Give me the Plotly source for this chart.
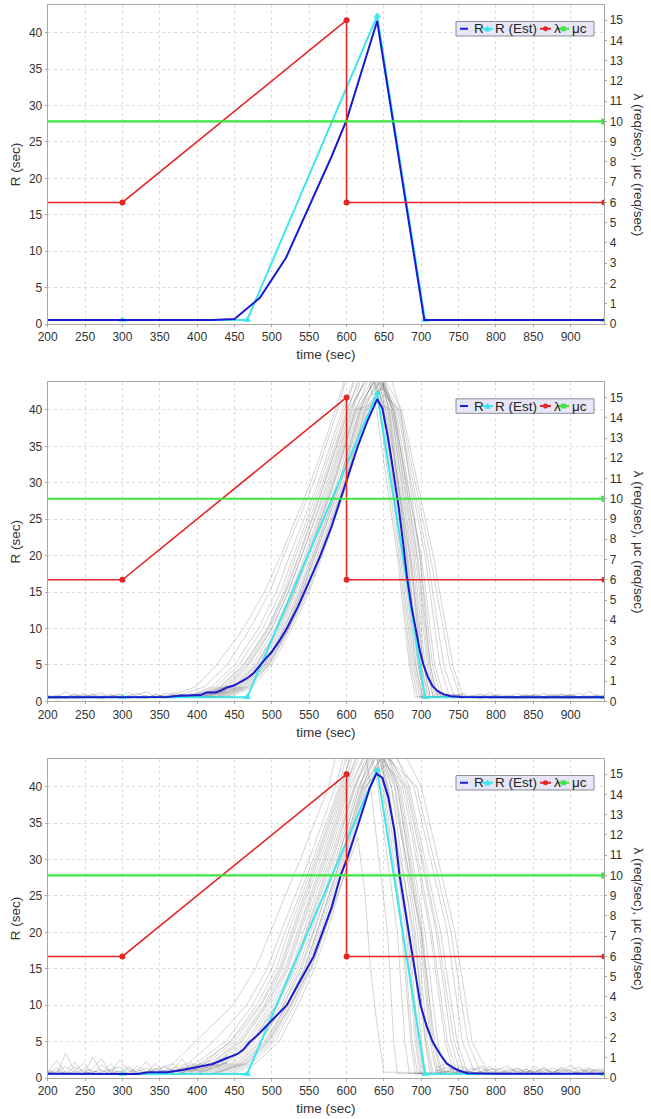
import plotly.graph_objects as go

# ---------------- data ----------------
X_TICKS = [200, 250, 300, 350, 400, 450, 500, 550, 600, 650, 700, 750, 800, 850, 900]
R_TICKS = [0, 5, 10, 15, 20, 25, 30, 35, 40]
RATE_TICKS = [0, 1, 2, 3, 4, 5, 6, 7, 8, 9, 10, 11, 12, 13, 14, 15]

LAMBDA_X = [0, 300, 600, 600, 945]
LAMBDA_Y = [6, 6, 15, 6, 6]
MUC_X = [0, 945]
MUC_Y = [10, 10]
REST_X = [0, 300, 467, 641, 705, 945]
REST_Y = [0.55, 0.55, 0.55, 42.3, 0.55, 0.55]

R1_X = [200, 420, 450, 484, 519, 556, 580, 600, 641, 704, 945]
R1_Y = [0.55, 0.55, 0.7, 3.6, 9.1, 17.5, 23.0, 28.0, 41.6, 0.55, 0.55]

R2_X = [200, 300, 360, 375, 390, 405, 412, 425, 432, 440, 450, 458, 466, 475, 484, 492, 500, 510,
        520, 535, 551, 565, 580, 592, 601, 615, 628, 634, 641, 648, 655, 662, 670, 676, 681, 687,
        692, 698, 703, 709, 715, 722, 730, 740, 755, 800, 945]
R2_Y = [0.55, 0.55, 0.6, 0.75, 0.8, 0.85, 1.2, 1.2, 1.5, 1.9, 2.2, 2.6, 3.1, 3.8, 5.0, 5.9, 6.8, 8.3,
        10.0, 13.0, 16.7, 20.0, 24.0, 27.8, 30.5, 35.0, 38.5, 40.0, 41.5, 40.2, 36.5, 32.0, 26.5, 21.5,
        17.0, 13.0, 10.0, 7.0, 5.0, 3.3, 2.1, 1.4, 0.95, 0.7, 0.58, 0.55, 0.55]

R3_X = [200, 280, 320, 335, 360, 380, 398, 410, 420, 432, 445, 454, 462, 470, 480, 493, 505, 520,
        535, 556, 567, 580, 592, 601, 615, 631, 640, 648, 656, 664, 671, 680, 688, 699, 707, 715,
        725, 734, 743, 751, 762, 800, 945]
R3_Y = [0.6, 0.6, 0.55, 0.8, 0.8, 1.1, 1.5, 1.7, 1.9, 2.4, 2.9, 3.3, 3.9, 4.9, 5.8, 7.2, 8.4, 10.0,
        12.8, 16.7, 19.8, 23.4, 27.8, 30.2, 34.6, 39.8, 41.8, 41.2, 38.5, 34.0, 27.8, 22.0, 16.7,
        10.0, 7.2, 5.0, 3.3, 2.0, 1.4, 1.0, 0.65, 0.6, 0.6]

# sample runs: times at which each run crosses these levels
GRAY_BASE = 0.6
GRAY_UP_LEVELS = [2, 5, 10, 15, 20, 30, 40]
GRAY_DOWN_LEVELS = [40, 20, 5]
# (leave base, x@2, x@5, x@10, x@15, x@20, x@30, x@40, x peak, peak, fall x@40, x@20, x@5, back to base)
GRAY2_ROWS = [
    (360, 398, 426, 462, 490, 512, 552, 585, 615, 50, 640, 668, 684, 692),
    (385, 420, 450, 482, 506, 524, 562, 594, 625, 48, 648, 672, 688, 698),
    (395, 430, 462, 494, 516, 532, 568, 600, 630, 47, 650, 676, 692, 702),
    (405, 440, 470, 500, 522, 540, 574, 605, 635, 46, 655, 680, 695, 706),
    (410, 445, 478, 507, 528, 546, 580, 610, 640, 45, 658, 684, 700, 710),
    (420, 452, 483, 512, 532, 550, 584, 613, 642, 44.5, 662, 690, 705, 716),
    (425, 456, 488, 517, 537, 555, 590, 617, 645, 44, 664, 695, 712, 722),
    (430, 462, 493, 522, 542, 561, 595, 622, 648, 43, 668, 705, 725, 738),
    (440, 470, 497, 524, 548, 566, 599, 626, 650, 42, 672, 712, 738, 752),
    (370, 410, 440, 471, 497, 516, 556, 588, 620, 52, 644, 670, 686, 695),
    (400, 435, 466, 497, 519, 537, 571, 603, 632, 45, 653, 685, 703, 712),
    (415, 448, 480, 510, 530, 548, 582, 612, 640, 41, 660, 688, 703, 712),
    (428, 458, 490, 520, 540, 558, 592, 619, 644, 46, 662, 700, 718, 730),
    (390, 425, 456, 488, 512, 529, 565, 597, 628, 49, 650, 674, 690, 700),
    (435, 466, 495, 522, 545, 563, 597, 624, 652, 47, 672, 698, 712, 720),
    (400, 438, 468, 500, 522, 540, 576, 607, 636, 50, 656, 682, 697, 706),
    (415, 450, 480, 508, 530, 548, 583, 612, 641, 47, 660, 686, 700, 708),
    (420, 455, 485, 514, 535, 553, 587, 615, 643, 45, 662, 692, 708, 716),
    (432, 464, 492, 519, 540, 558, 593, 620, 646, 44, 666, 698, 715, 726),
    (408, 442, 474, 504, 526, 544, 578, 608, 638, 48, 657, 681, 696, 704),
    (438, 468, 496, 523, 546, 564, 598, 625, 650, 43.5, 670, 708, 730, 744),
    (398, 432, 463, 495, 518, 536, 570, 602, 632, 49, 652, 678, 693, 702),
    (425, 460, 490, 516, 538, 556, 590, 618, 644, 46, 664, 694, 710, 718),
    (445, 474, 500, 527, 550, 568, 601, 628, 652, 44, 674, 716, 742, 756),
]
GRAY3_ROWS = [
    (330, 368, 398, 448, 478, 498, 538, 576, 610, 55, 632, 655, 663, 668),
    (345, 388, 422, 466, 494, 512, 550, 585, 618, 52, 642, 668, 678, 684),
    (360, 408, 444, 480, 506, 522, 558, 592, 625, 50, 650, 676, 688, 695),
    (375, 418, 455, 490, 514, 530, 565, 598, 630, 48, 655, 682, 694, 700),
    (390, 428, 465, 498, 522, 538, 572, 604, 636, 47, 660, 688, 700, 706),
    (400, 438, 472, 505, 528, 545, 578, 610, 640, 46, 664, 692, 705, 712),
    (410, 448, 480, 512, 535, 552, 585, 615, 645, 45, 668, 698, 712, 720),
    (425, 458, 490, 520, 543, 560, 592, 620, 648, 44, 672, 705, 722, 732),
    (440, 468, 500, 527, 550, 568, 598, 624, 652, 43, 680, 720, 740, 752),
    (450, 478, 510, 535, 557, 574, 603, 627, 655, 46, 690, 735, 755, 772),
    (355, 398, 438, 474, 500, 518, 555, 590, 622, 54, 660, 700, 718, 728),
    (420, 455, 486, 516, 540, 556, 588, 618, 650, 50, 700, 745, 768, 790),
    (395, 435, 468, 502, 526, 542, 575, 607, 638, 48, 665, 695, 708, 716),
    (405, 445, 476, 508, 532, 548, 582, 612, 642, 47, 675, 712, 732, 744),
    (380, 420, 458, 492, 518, 534, 568, 600, 632, 51, 652, 680, 692, 698),
    (430, 462, 494, 522, 546, 562, 594, 622, 650, 48, 684, 726, 748, 762),
    (385, 425, 460, 494, 520, 536, 570, 602, 634, 49, 656, 684, 696, 703),
    (415, 452, 484, 515, 538, 555, 588, 617, 646, 47, 670, 702, 716, 726),
    (370, 412, 450, 486, 512, 528, 562, 596, 628, 51, 648, 674, 686, 692),
    (435, 466, 497, 525, 548, 565, 596, 623, 651, 45, 682, 722, 744, 758),
    (400, 440, 474, 506, 530, 546, 580, 611, 641, 48, 668, 700, 714, 722),
    (445, 472, 504, 530, 553, 570, 600, 626, 654, 44, 694, 740, 762, 780),
    (365, 404, 446, 484, 510, 526, 560, 594, 627, 53, 654, 690, 706, 714),
    (425, 460, 492, 520, 544, 560, 592, 621, 648, 46, 678, 714, 735, 748),
]
GRAY3_OUTLIER_X = [200, 420, 465, 495, 525, 552, 570, 605, 615, 625, 632, 640, 650, 945]
GRAY3_OUTLIER_Y = [0.6, 0.6, 2, 5, 10, 15, 20, 30, 33, 25, 15, 8, 0.8, 0.6]

# baseline jitter of the sample runs
NOISE_XL = [200, 212, 224, 236, 248, 260, 272, 284, 296, 308, 320, 332, 344, 356, 368, 380, 392, 404, 416, 428, 440]
NOISE_XR = [720, 732, 744, 756, 768, 780, 792, 804, 816, 828, 840, 852, 864, 876, 888, 900, 912, 924, 936, 945]
NOISE2_L = [
    [0.5, 0.9, 0.4, 0.7, 1.1, 0.5, 0.3, 0.8, 0.6, 1.2, 0.5, 0.4, 0.9, 0.7, 0.5, 1.0, 0.6, 1.3, 0.9, 1.6, 2.2],
    [0.7, 0.3, 0.6, 1.0, 0.5, 0.8, 1.2, 0.4, 0.7, 0.5, 0.9, 1.3, 0.6, 0.4, 0.8, 0.5, 1.1, 0.7, 1.4, 1.0, 1.8],
    [0.4, 0.6, 1.3, 0.5, 0.3, 0.9, 0.6, 0.7, 1.0, 0.4, 0.6, 0.8, 0.4, 1.1, 0.9, 0.6, 0.8, 0.5, 1.0, 1.3, 1.5],
    [0.6, 0.5, 0.7, 0.4, 0.9, 0.6, 0.5, 1.0, 0.4, 0.7, 1.1, 0.6, 0.5, 0.6, 1.2, 0.8, 0.5, 0.9, 0.8, 1.1, 1.2],
    [0.3, 0.7, 0.5, 0.9, 0.6, 1.0, 0.4, 0.6, 0.9, 0.5, 0.7, 0.4, 1.0, 0.6, 0.7, 0.9, 0.6, 0.8, 1.2, 1.4, 1.9],
    [0.8, 0.5, 0.4, 0.6, 0.8, 0.4, 0.9, 0.5, 0.5, 0.8, 0.4, 0.7, 0.6, 0.9, 0.4, 0.7, 0.9, 1.1, 0.6, 1.5, 1.7],
]
NOISE2_R = [
    [1.5, 0.8, 0.6, 0.9, 0.4, 0.7, 0.5, 1.0, 0.6, 0.3, 0.8, 0.5, 1.1, 0.6, 0.4, 0.9, 0.5, 1.4, 0.6, 0.5],
    [0.9, 1.2, 0.5, 0.4, 0.8, 1.0, 0.6, 0.4, 0.9, 0.7, 0.4, 1.0, 0.6, 0.8, 0.5, 0.3, 0.7, 0.6, 0.9, 0.7],
    [0.6, 0.5, 1.0, 0.7, 0.6, 0.3, 0.9, 0.7, 0.5, 1.1, 0.6, 0.9, 0.4, 0.5, 1.0, 0.7, 0.4, 0.6, 0.5, 0.8],
    [0.7, 0.6, 0.8, 1.1, 0.5, 0.6, 1.2, 0.5, 0.7, 0.6, 0.9, 0.4, 0.7, 1.0, 0.6, 0.8, 1.1, 0.5, 0.7, 0.6],
    [1.1, 0.7, 0.9, 0.5, 0.8, 0.4, 0.7, 0.8, 0.4, 0.6, 0.9, 0.7, 0.5, 0.8, 0.9, 0.6, 0.5, 0.8, 0.4, 0.7],
    [0.6, 1.0, 0.7, 0.5, 0.6, 0.9, 0.4, 0.6, 0.7, 0.5, 0.7, 0.8, 0.4, 0.6, 0.7, 0.9, 0.6, 0.4, 0.8, 0.5],
]
NOISE3_L = [
    [0.6, 1.4, 0.5, 0.9, 2.1, 0.7, 0.4, 1.1, 0.8, 1.6, 0.6, 0.5, 1.2, 0.9, 0.7, 1.5, 1.0, 2.0, 1.3, 2.4, 3.0],
    [0.9, 0.4, 3.4, 1.0, 0.6, 1.3, 2.6, 0.7, 0.9, 0.5, 1.7, 0.8, 0.6, 1.1, 1.9, 0.7, 1.4, 0.9, 1.8, 2.2, 2.6],
    [0.5, 0.8, 1.6, 0.7, 0.4, 2.9, 0.8, 1.2, 1.5, 0.6, 0.9, 2.3, 0.6, 1.6, 1.0, 0.8, 2.1, 1.2, 1.5, 1.9, 3.1],
    [1.1, 0.6, 0.9, 2.2, 0.7, 0.8, 1.1, 0.6, 2.5, 1.0, 0.7, 0.9, 1.4, 0.6, 0.9, 1.3, 0.8, 1.6, 2.4, 1.7, 2.2],
    [0.7, 1.0, 0.6, 1.5, 0.9, 0.6, 1.8, 0.9, 0.6, 1.3, 0.8, 1.4, 0.7, 0.9, 1.2, 2.6, 0.9, 1.4, 2.0, 1.5, 2.8],
    [0.8, 2.4, 0.7, 0.6, 1.2, 0.9, 0.7, 1.9, 0.7, 0.8, 1.2, 0.6, 2.0, 0.8, 1.1, 0.7, 1.3, 0.9, 1.2, 2.3, 2.0],
]
NOISE3_R = [
    [1.8, 1.0, 0.7, 1.3, 0.5, 0.9, 1.6, 0.6, 0.8, 0.4, 1.2, 0.7, 1.5, 0.6, 0.9, 1.8, 0.7, 1.1, 0.5, 0.8],
    [1.3, 2.0, 0.8, 0.6, 1.1, 1.4, 0.7, 0.5, 1.3, 0.9, 0.6, 1.6, 0.7, 1.0, 0.6, 0.5, 1.2, 0.8, 1.3, 0.9],
    [0.8, 0.7, 1.5, 0.9, 0.8, 0.5, 1.3, 0.9, 0.6, 1.4, 0.8, 1.2, 0.5, 0.7, 1.5, 1.0, 0.6, 0.8, 0.7, 1.1],
    [1.0, 0.9, 1.1, 1.6, 0.7, 0.9, 1.0, 1.3, 0.8, 0.9, 1.2, 0.6, 0.9, 1.4, 0.8, 1.1, 1.5, 0.7, 1.0, 0.8],
    [1.2, 0.8, 1.0, 0.7, 1.4, 0.8, 0.6, 1.1, 1.7, 0.7, 0.9, 0.8, 1.1, 0.7, 1.3, 0.6, 0.9, 1.4, 0.8, 0.7],
    [0.9, 1.4, 1.2, 0.8, 0.9, 1.7, 0.9, 0.7, 1.0, 1.3, 0.7, 0.9, 1.3, 0.8, 1.1, 0.9, 0.7, 1.2, 1.0, 1.4],
]

# ---------------- styling / layout ----------------
W, H = 651, 1119
PANEL_TOPS = [5.0, 382.3, 759.0]
PANEL_H = 319.0
PLOT_L, PLOT_R = 47.7, 604.3
X_RANGE = [200, 945]
R_RANGE = [0, 43.8]
RATE_RANGE = [0, 15.75]

FONT = "Liberation Sans, Arial, sans-serif"
C_R = "#1a1ad0"
C_EST = "#3ee6ea"
C_LAM = "#e42626"
C_MU = "#3ee63e"
C_GRAY = "rgba(105,105,105,0.36)"
C_AXIS = "#a8a8a8"
C_GRID = "#dcdcdc"
C_TEXT = "#333333"


def px(p):
    return p / W


def py(p):
    return 1 - p / H


fig = go.Figure()


def add(k, trace, right=False):
    xa = "x" if k == 0 else f"x{k + 1}"
    yn = 2 * k + (2 if right else 1)
    ya = "y" if yn == 1 else f"y{yn}"
    trace.update(xaxis=xa, yaxis=ya, showlegend=False, hoverinfo="skip")
    fig.add_trace(trace)


def gray_line(k, xs, ys):
    add(k, go.Scatter(x=xs, y=ys, mode="lines", line=dict(color=C_GRAY, width=0.8)))


def gray_rows(k, rows):
    for r in rows:
        xs = [X_RANGE[0], r[0], *r[1:8], r[8], *r[10:14], X_RANGE[1]]
        ys = [GRAY_BASE, GRAY_BASE, *GRAY_UP_LEVELS, r[9], *GRAY_DOWN_LEVELS, GRAY_BASE, GRAY_BASE]
        gray_line(k, xs, ys)


def noise(k, left_sets, right_sets):
    for yl, yr in zip(left_sets, right_sets):
        gray_line(k, NOISE_XL + [None] + NOISE_XR, yl + [None] + yr)


def main_series(k, rx, ry):
    add(k, go.Scatter(x=LAMBDA_X, y=LAMBDA_Y, mode="lines+markers",
                      line=dict(color=C_LAM, width=1.6),
                      marker=dict(color=C_LAM, size=6, symbol="circle")), right=True)
    add(k, go.Scatter(x=MUC_X, y=MUC_Y, mode="lines+markers",
                      line=dict(color=C_MU, width=2.2),
                      marker=dict(color=C_MU, size=6, symbol="square")), right=True)
    add(k, go.Scatter(x=REST_X, y=REST_Y, mode="lines+markers",
                      line=dict(color=C_EST, width=2),
                      marker=dict(color=C_EST, size=7, symbol="triangle-up")))
    add(k, go.Scatter(x=rx, y=ry, mode="lines", line=dict(color=C_R, width=2)))


# panel 1
main_series(0, R1_X, R1_Y)
# panel 2
noise(1, NOISE2_L, NOISE2_R)
gray_rows(1, GRAY2_ROWS)
main_series(1, R2_X, R2_Y)
# panel 3
noise(2, NOISE3_L, NOISE3_R)
gray_rows(2, GRAY3_ROWS)
gray_line(2, GRAY3_OUTLIER_X, GRAY3_OUTLIER_Y)
main_series(2, R3_X, R3_Y)

layout = dict(
    width=W, height=H, margin=dict(l=0, r=0, t=0, b=0),
    paper_bgcolor="white", plot_bgcolor="white",
    font=dict(family=FONT, color=C_TEXT, size=12),
    showlegend=False,
)
shapes = []
annotations = []
tickfont = dict(family=FONT, size=12, color=C_TEXT)
titlefont = dict(family=FONT, size=13.5, color=C_TEXT)

for k, top in enumerate(PANEL_TOPS):
    bottom = top + PANEL_H
    dom_y = [py(bottom), py(top)]
    xname = "xaxis" if k == 0 else f"xaxis{k + 1}"
    xref = "x" if k == 0 else f"x{k + 1}"
    yl_n, yr_n = 2 * k + 1, 2 * k + 2
    yl_name = "yaxis" if yl_n == 1 else f"yaxis{yl_n}"
    yl_ref = "y" if yl_n == 1 else f"y{yl_n}"
    yr_name = f"yaxis{yr_n}"

    layout[xname] = dict(
        domain=[px(PLOT_L), px(PLOT_R)], anchor=yl_ref, range=X_RANGE,
        tickmode="array", tickvals=X_TICKS, ticktext=[str(v) for v in X_TICKS],
        showgrid=True, gridcolor=C_GRID, griddash="dot", gridwidth=1,
        showline=True, linecolor=C_AXIS, linewidth=1, mirror=True,
        ticks="outside", ticklen=2, tickcolor=C_AXIS,
        tickfont=tickfont, zeroline=False, automargin=False,
        title=dict(text="time (sec)", font=titlefont, standoff=6),
    )
    layout[yl_name] = dict(
        domain=dom_y, anchor=xref, range=R_RANGE,
        tickmode="array", tickvals=R_TICKS, ticktext=[str(v) for v in R_TICKS],
        showgrid=True, gridcolor=C_GRID, griddash="dot", gridwidth=1,
        showline=True, linecolor=C_AXIS, linewidth=1,
        ticks="outside", ticklen=2, tickcolor=C_AXIS,
        tickfont=tickfont, zeroline=False, automargin=False,
        title=dict(text="R (sec)", font=titlefont, standoff=5),
    )
    layout[yr_name] = dict(
        overlaying=yl_ref, side="right", anchor=xref, range=RATE_RANGE,
        tickmode="array", tickvals=RATE_TICKS, ticktext=[str(v) for v in RATE_TICKS],
        showgrid=False, showline=True, linecolor=C_AXIS, linewidth=1,
        ticks="outside", ticklen=2, tickcolor=C_AXIS,
        tickfont=tickfont, zeroline=False, automargin=False,
    )
    # right axis title (reads top to bottom)
    annotations.append(dict(
        text="λ (req/sec), μc (req/sec)", textangle=90, showarrow=False,
        xref="paper", yref="paper", x=px(638), y=py(top + PANEL_H / 2),
        xanchor="center", yanchor="middle", font=titlefont,
    ))

    # ----- legend box -----
    ly0, ly1 = top + 16.5, top + 31.0
    cy = (ly0 + ly1) / 2
    shapes.append(dict(type="rect", xref="paper", yref="paper",
                       x0=px(456), x1=px(594), y0=py(ly1), y1=py(ly0),
                       fillcolor="#e6e6f6", line=dict(color="#8c8c9c", width=1), layer="above"))
    shapes.append(dict(type="line", xref="paper", yref="paper", x0=px(460), x1=px(468),
                       y0=py(cy), y1=py(cy), line=dict(color=C_R, width=2), layer="above"))
    shapes.append(dict(type="line", xref="paper", yref="paper", x0=px(482), x1=px(493),
                       y0=py(cy), y1=py(cy), line=dict(color=C_EST, width=2), layer="above"))
    shapes.append(dict(type="path", xref="paper", yref="paper",
                       path=f"M {px(484.8)},{py(cy + 2.4)} L {px(490.2)},{py(cy + 2.4)} L {px(487.5)},{py(cy - 3.0)} Z",
                       fillcolor=C_EST, line=dict(color=C_EST, width=0.5), layer="above"))
    shapes.append(dict(type="line", xref="paper", yref="paper", x0=px(540), x1=px(551),
                       y0=py(cy), y1=py(cy), line=dict(color=C_LAM, width=2), layer="above"))
    shapes.append(dict(type="circle", xref="paper", yref="paper",
                       x0=px(543.2), x1=px(547.8), y0=py(cy + 2.3), y1=py(cy - 2.3),
                       fillcolor=C_LAM, line=dict(color=C_LAM, width=0.5), layer="above"))
    shapes.append(dict(type="line", xref="paper", yref="paper", x0=px(558), x1=px(569),
                       y0=py(cy), y1=py(cy), line=dict(color=C_MU, width=2), layer="above"))
    shapes.append(dict(type="rect", xref="paper", yref="paper",
                       x0=px(561.3), x1=px(565.7), y0=py(cy + 2.2), y1=py(cy - 2.2),
                       fillcolor=C_MU, line=dict(color=C_MU, width=0.5), layer="above"))
    legfont = dict(family=FONT, size=13.5, color="#222222")
    for txt, xl in (("R", 472.5), ("R (Est)", 494), ("λ", 552.5), ("μc", 570.5)):
        annotations.append(dict(text=txt, showarrow=False, xref="paper", yref="paper",
                                x=px(xl), y=py(cy), xanchor="left", yanchor="middle",
                                font=legfont, borderpad=0))

layout["shapes"] = shapes
layout["annotations"] = annotations
fig.update_layout(**layout)
fig.write_html("out.html")
